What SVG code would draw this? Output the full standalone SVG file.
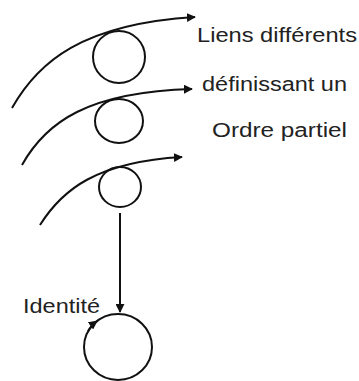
<svg xmlns="http://www.w3.org/2000/svg" width="359" height="381" viewBox="0 0 359 381">
<defs>
<marker id="ah" viewBox="0 0 10 10" refX="9" refY="5" markerWidth="9" markerHeight="9" markerUnits="userSpaceOnUse" orient="auto">
<path d="M0,0 L10,5 L0,10 z" fill="#111"/>
</marker>
</defs>
<style>
.c{fill:none;stroke:#111;stroke-width:2}
.l{fill:none;stroke:#111;stroke-width:2}
.t{font-family:"Liberation Sans",Arial,sans-serif;font-size:20px;fill:#222}
</style>
<rect width="359" height="381" fill="#fff"/>
<g id="n1"><ellipse class="c" cx="119" cy="57" rx="26" ry="26"/></g>
<g id="n2"><ellipse class="c" cx="119" cy="121" rx="24" ry="22"/></g>
<g id="n3"><ellipse class="c" cx="120" cy="187" rx="21" ry="20"/></g>
<g id="n4"><ellipse class="c" cx="118" cy="347" rx="34" ry="33"/></g>
<g id="connectors">
<path class="l" d="M12,108 C38,62 82,24 195,17" marker-end="url(#ah)"/>
<path class="l" d="M22,165 C46,122 88,92 192,89" marker-end="url(#ah)"/>
<path class="l" d="M40,225 C62,190 96,162 182,157" marker-end="url(#ah)"/>
<path class="l" d="M120,213 L120,312" marker-end="url(#ah)"/>
<path class="l" d="M88,331 A34,33 0 0 1 97,321" marker-end="url(#ah)"/>
</g>
<g id="labels">
<text class="t" x="197" y="42" textLength="160" lengthAdjust="spacingAndGlyphs">Liens différents</text>
<text class="t" x="202" y="91" textLength="145" lengthAdjust="spacingAndGlyphs">définissant un</text>
<text class="t" x="212" y="137" textLength="135" lengthAdjust="spacingAndGlyphs">Ordre partiel</text>
<text class="t" x="23" y="313" textLength="77" lengthAdjust="spacingAndGlyphs">Identité</text>
</g>
</svg>
